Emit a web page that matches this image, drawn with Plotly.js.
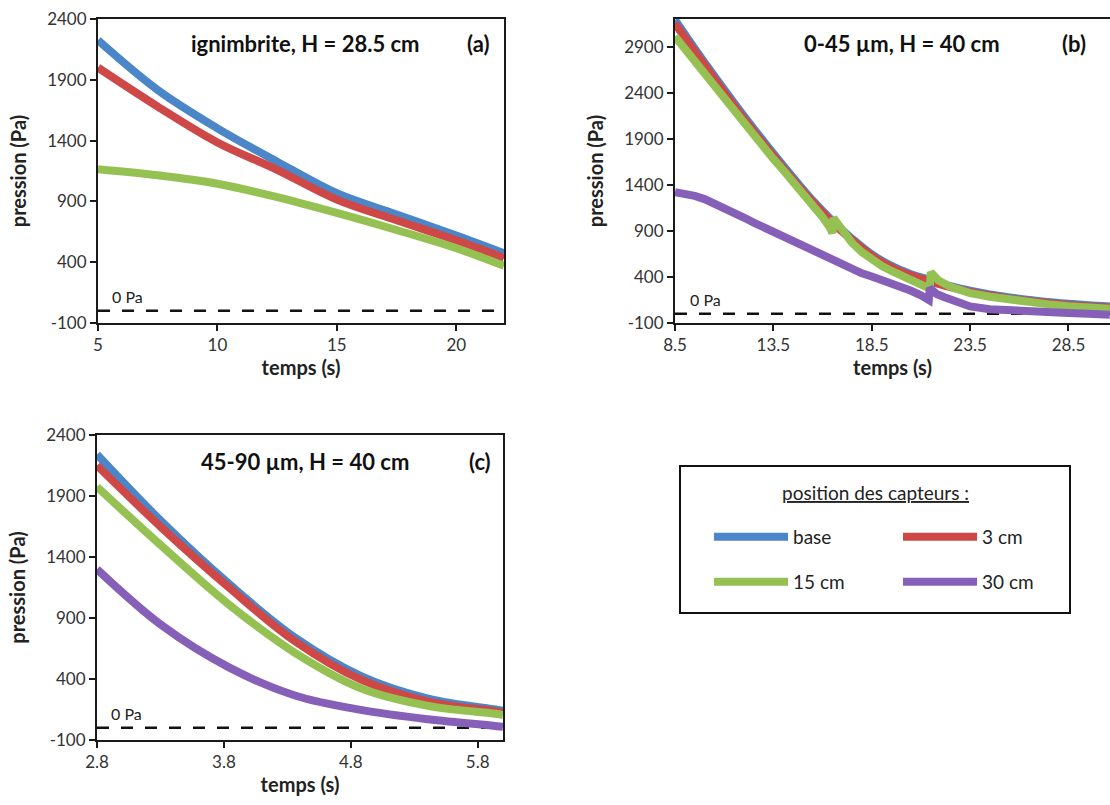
<!DOCTYPE html>
<html>
<head>
<meta charset="utf-8">
<script src="https://cdn.plot.ly/plotly-3.0.1.min.js"></script>
<style>
  html, body { margin: 0; padding: 0; background: #fff; }
  #chart { width: 1110px; height: 805px; }
</style>
</head>
<body>
<div id="chart"></div>
<script>
// ---------- data ----------
// series names
const seriesNames = ['base', '3 cm', '15 cm', '30 cm'];

// panel (a): ignimbrite, H = 28.5 cm
const timeA = [5, 7.5, 10, 12.5, 15, 17.5, 20, 22];
const aBase = [2225, 1816, 1501, 1227, 967, 793, 619, 473];
const a3cm  = [2000, 1680, 1385, 1160, 915, 745, 580, 435];
const a15cm = [1165, 1115, 1045, 935, 805, 665, 515, 370];

// panel (b): 0-45 µm, H = 40 cm
const timeB = [8.5, 9.5, 10.5, 11.5, 12.5, 13.5, 14.5, 15.5, 16.5, 17.5, 18.5, 19.5, 20.5, 21.5, 22.5, 23.5, 24.5, 25.5, 26.5, 27.5, 28.5, 29.5, 30.6];
const bBase = [3190, 2880, 2580, 2290, 2010, 1740, 1480, 1230, 1010, 815, 645, 520, 430, 365, 300, 250, 210, 178, 150, 128, 108, 92, 80];
const b3cm  = [3150, 2850, 2550, 2260, 1980, 1715, 1455, 1210, 990, 800, 630, 505, 415, 350, 290, 238, 198, 165, 138, 115, 95, 80, 68];
const timeB15 = [8.5, 9, 9.5, 10, 10.5, 11, 11.5, 12, 12.5, 13, 13.5, 14, 14.5, 15, 15.5, 16, 16.4, 16.5, 16.55, 16.9, 17.5, 18, 18.5, 19, 19.5, 20, 20.5, 21, 21.45, 21.5, 21.9, 22.5, 23.5, 24.5, 25.5, 26.5, 27.5, 28.5, 29.5, 30.6];
const b15cm = [3010, 2875, 2740, 2605, 2470, 2340, 2210, 2075, 1940, 1810, 1680, 1560, 1440, 1310, 1180, 1050, 925, 875, 1040, 940, 770, 670, 585, 520, 465, 415, 375, 330, 272, 450, 360, 292, 225, 185, 152, 125, 102, 82, 66, 54];
const timeB30 = [8.5, 9, 9.5, 10, 10.5, 11, 11.5, 12, 12.5, 13, 13.5, 14, 14.5, 15, 15.5, 16, 16.5, 17, 17.5, 18, 18.5, 19, 19.5, 20, 20.5, 21, 21.4, 21.45, 21.8, 22.2, 22.5, 23, 23.5, 24.5, 25.5, 26.5, 27.5, 28.5, 29.5, 30.6];
const b30cm = [1320, 1305, 1280, 1245, 1200, 1150, 1095, 1045, 990, 940, 890, 840, 790, 740, 690, 630, 575, 525, 480, 440, 405, 370, 335, 295, 250, 200, 150, 280, 215, 180, 160, 115, 80, 50, 35, 25, 15, 8, 0, -10];

// panel (c): 45-90 µm, H = 40 cm
const timeC = [2.8, 3.31, 3.84, 4.36, 4.89, 5.41, 5.94, 6.0];
const cBase = [2240, 1690, 1180, 740, 420, 240, 150, 140];
const c3cm  = [2150, 1640, 1150, 710, 390, 215, 135, 125];
const c15cm = [1975, 1490, 1010, 615, 320, 180, 115, 105];
const c30cm = [1300, 840, 495, 265, 145, 70, 15, 8];

// tick labels
const xTicksA = [5, 10, 15, 20];
const xTicksB = [8.5, 13.5, 18.5, 23.5, 28.5];
const xTicksC = [2.8, 3.8, 4.8, 5.8];
const yTicksAC = [-100, 400, 900, 1400, 1900, 2400];
const yTicksB = [-100, 400, 900, 1400, 1900, 2400, 2900];

// panel titles
const panelTitles = ['ignimbrite, H = 28.5 cm', '0-45 µm, H = 40 cm', '45-90 µm, H = 40 cm'];
const panelTags = ['(a)', '(b)', '(c)'];

// ---------- styling ----------
const colors = ['#4a86c8', '#cf4848', '#95c152', '#8660b8'];
const LW = 8;
const FONT = 'Lato, "Open Sans", sans-serif';

function tr(x, y, i, xa, ya, legendName, showleg, shape) {
  return {
    type: 'scatter', mode: 'lines', x: x, y: y, xaxis: xa, yaxis: ya,
    name: seriesNames[i], legendgroup: seriesNames[i],
    line: { color: colors[i], width: LW, shape: shape || 'spline', smoothing: 1 },
    showlegend: !!showleg, legend: legendName || 'legend',
    hoverinfo: 'x+y+name'
  };
}

const traces = [
  tr(timeA, aBase, 0, 'x', 'y'),
  tr(timeA, a3cm, 1, 'x', 'y'),
  tr(timeA, a15cm, 2, 'x', 'y'),

  tr(timeB, bBase, 0, 'x2', 'y2'),
  tr(timeB, b3cm, 1, 'x2', 'y2'),
  tr(timeB15, b15cm, 2, 'x2', 'y2', null, false, 'linear'),
  tr(timeB30, b30cm, 3, 'x2', 'y2', null, false, 'linear'),

  tr(timeC, cBase, 0, 'x3', 'y3', 'legend', true),
  tr(timeC, c3cm, 1, 'x3', 'y3', 'legend', true),
  tr(timeC, c15cm, 2, 'x3', 'y3', 'legend2', true),
  tr(timeC, c30cm, 3, 'x3', 'y3', 'legend2', true)
];

const W = 1110, H = 805;
function xdom(l, r) { return [l / W, Math.min(1, r / W)]; }
function ydom(top, bottom) { return [1 - bottom / H, 1 - top / H]; }

const axisBase = {
  showline: true, linecolor: '#1a1a1a', linewidth: 2, mirror: true,
  ticks: 'outside', ticklen: 6, tickwidth: 2, tickcolor: '#1a1a1a',
  showgrid: false, zeroline: false,
  tickfont: { family: FONT, size: 17, color: '#333' },
  fixedrange: true
};
const xTitle = (t) => ({ text: '<b>' + t + '</b>', font: { family: FONT, size: 20, color: '#222' }, standoff: 4 });
const yTitle = (t) => ({ text: '<b>' + t + '</b>', font: { family: FONT, size: 20, color: '#222' }, standoff: 15 });

const legendBase = {
  orientation: 'h', xanchor: 'left', yanchor: 'middle',
  entrywidth: 100, entrywidthmode: 'pixels', itemwidth: 74,
  font: { family: FONT, size: 19, color: '#222' }, bgcolor: 'rgba(0,0,0,0)', borderwidth: 0,
  traceorder: 'normal', itemclick: false, itemdoubleclick: false
};

const layout = {
  width: W, height: H,
  margin: { l: 0, r: 0, t: 0, b: 0 },
  paper_bgcolor: '#fff', plot_bgcolor: '#fff',
  font: { family: FONT, color: '#222' },
  showlegend: true,
  xaxis: Object.assign({}, axisBase, { domain: xdom(98, 504), range: [5, 22], anchor: 'y',
    tickvals: xTicksA, ticktext: xTicksA.map(String), title: xTitle('temps (s)') }),
  yaxis: Object.assign({}, axisBase, { domain: ydom(19, 323), range: [-100, 2400], anchor: 'x',
    tickvals: yTicksAC, ticktext: yTicksAC.map(String), title: yTitle('pression (Pa)') }),
  xaxis2: Object.assign({}, axisBase, { domain: xdom(675, 1110), range: [8.5, 30.61], anchor: 'y2',
    tickvals: xTicksB, ticktext: xTicksB.map(v => v.toFixed(1)), title: xTitle('temps (s)') }),
  yaxis2: Object.assign({}, axisBase, { domain: ydom(19, 323), range: [-100, 3200], anchor: 'x2', mirror: false,
    tickvals: yTicksB, ticktext: yTicksB.map(String), title: yTitle('pression (Pa)') }),
  xaxis3: Object.assign({}, axisBase, { domain: xdom(97, 503), range: [2.8, 6.0], anchor: 'y3',
    tickvals: xTicksC, ticktext: xTicksC.map(v => v.toFixed(1)), title: xTitle('temps (s)') }),
  yaxis3: Object.assign({}, axisBase, { domain: ydom(435, 740), range: [-100, 2400], anchor: 'x3',
    tickvals: yTicksAC, ticktext: yTicksAC.map(String), title: yTitle('pression (Pa)') }),
  legend: Object.assign({}, legendBase, { x: 709 / W, y: 1 - 537 / H }),
  legend2: Object.assign({}, legendBase, { x: 709 / W, y: 1 - 582 / H }),
  shapes: [
    { type: 'line', xref: 'x domain', x0: 0, x1: 1, yref: 'y', y0: 0, y1: 0, layer: 'below',
      line: { color: '#111', width: 2.5, dash: '12px,12px' } },
    { type: 'line', xref: 'x2 domain', x0: 0, x1: 1, yref: 'y2', y0: 0, y1: 0, layer: 'below',
      line: { color: '#111', width: 2.5, dash: '12px,12px' } },
    { type: 'line', xref: 'x3 domain', x0: 0, x1: 1, yref: 'y3', y0: 0, y1: 0, layer: 'below',
      line: { color: '#111', width: 2.5, dash: '12px,12px' } },
    { type: 'rect', xref: 'paper', yref: 'paper', x0: 680 / W, x1: 1070 / W, y0: 1 - 613 / H, y1: 1 - 466 / H,
      line: { color: '#111', width: 2 }, fillcolor: 'rgba(0,0,0,0)' }
  ],
  annotations: []
};

const axPairs = [['x', 'y', 0.51, 0.918, 0.936], ['x2', 'y2', 0.521, 0.918, 0.917], ['x3', 'y3', 0.512, 0.912, 0.943]];
axPairs.forEach((p, i) => {
  layout.annotations.push({
    xref: p[0] + ' domain', yref: p[1] + ' domain', x: p[2], y: p[3], xanchor: 'center', yanchor: 'middle',
    text: '<b>' + panelTitles[i] + '</b>', showarrow: false, font: { family: FONT, size: 22, color: '#111' }
  });
  layout.annotations.push({
    xref: p[0] + ' domain', yref: p[1] + ' domain', x: p[4], y: p[3], xanchor: 'center', yanchor: 'middle',
    text: '<b>' + panelTags[i] + '</b>', showarrow: false, font: { family: FONT, size: 22, color: '#111' }
  });
  layout.annotations.push({
    xref: p[0] + ' domain', yref: p[1], x: 0.03, y: 0, xanchor: 'left', yanchor: 'bottom', yshift: 3,
    text: '0 Pa', showarrow: false, font: { family: FONT, size: 16, color: '#222' }
  });
});
layout.annotations.push({
  xref: 'paper', yref: 'paper', x: 875 / W, y: 1 - 492 / H, xanchor: 'center', yanchor: 'middle',
  text: '<u>position des capteurs :</u>', showarrow: false, font: { family: FONT, size: 19, color: '#222' }
});

Plotly.newPlot('chart', traces, layout, { displayModeBar: false, staticPlot: false, responsive: false });
</script>
</body>
</html>
